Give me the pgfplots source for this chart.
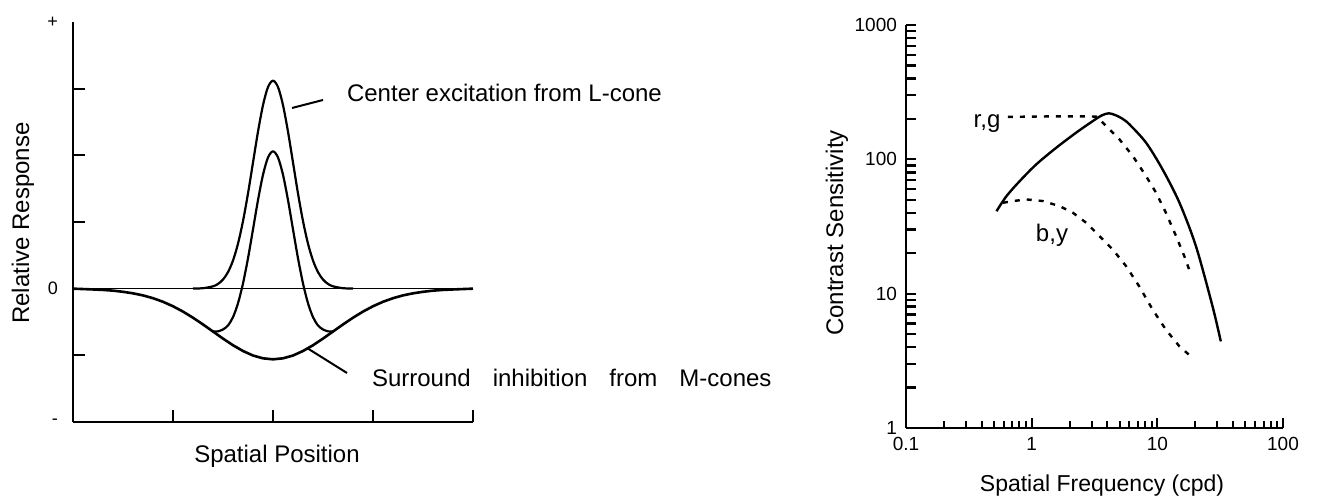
\documentclass[border=0pt]{standalone}
\usepackage{fontspec}
\setmainfont{Liberation Sans}
\usepackage{pgfplots}
\pgfplotsset{compat=1.18}
\begin{document}
\begin{tikzpicture}[x=1pt,y=1pt]
\useasboundingbox (0,0) rectangle (665,248);
% ---------------- left panel ----------------
\begin{axis}[
  at={(36.5pt,37pt)}, anchor=south west,
  scale only axis, width=200pt, height=200pt,
  xmin=0, xmax=4, ymin=-2, ymax=4,
  axis lines*=left,
  axis line style={line width=1.1pt, black},
  tick align=inside,
  major tick length=6pt,
  tick style={line width=1.1pt, black},
  xtick={1,2,3,4}, xticklabels={},
  ytick={-1,0,1,2,3}, yticklabels={},
  extra y ticks={-2,0,4},
  extra y tick labels={-,0,+},
  extra y tick style={major tick length=0pt, yticklabel style={font=\fontsize{9}{9}\selectfont, xshift=-4pt}},
  clip=false,
]
\addplot[black, line width=0.8pt] coordinates {(0,0) (4,0)};
% surround inhibition
\addplot[black, line width=1.3pt, line join=round] coordinates {
(0,0) (0.2,-0.012) (0.3,-0.019) (0.4,-0.030) (0.5,-0.047) (0.6,-0.070) (0.7,-0.101)
(0.8,-0.143) (0.9,-0.197) (1.0,-0.264) (1.1,-0.344) (1.2,-0.436) (1.3,-0.537)
(1.4,-0.643) (1.5,-0.749) (1.6,-0.849) (1.7,-0.935) (1.8,-1.003) (1.9,-1.045)
(2.0,-1.060) (2.1,-1.045) (2.2,-1.003) (2.3,-0.935) (2.4,-0.849) (2.5,-0.749)
(2.6,-0.643) (2.7,-0.537) (2.8,-0.436) (2.9,-0.344) (3.0,-0.264) (3.1,-0.197)
(3.2,-0.143) (3.3,-0.101) (3.4,-0.070) (3.5,-0.047) (3.6,-0.030) (3.7,-0.019)
(3.8,-0.012) (4.0,0)};
% center excitation
\addplot[black, line width=1.1pt, line join=round, smooth] coordinates {
(1.2,0.001) (1.3,0.007) (1.4,0.035) (1.45,0.071) (1.5,0.137) (1.55,0.248) (1.6,0.422)
(1.65,0.675) (1.7,1.013) (1.75,1.428) (1.8,1.892) (1.85,2.355) (1.9,2.753)
(1.95,3.024) (2.0,3.120) (2.05,3.024) (2.1,2.753) (2.15,2.355) (2.2,1.892)
(2.25,1.428) (2.3,1.013) (2.35,0.675) (2.4,0.422) (2.45,0.248) (2.5,0.137)
(2.55,0.071) (2.6,0.035) (2.7,0.007) (2.8,0.001)};
% net response
\addplot[black, line width=1.1pt, line join=round, smooth] coordinates {
(1.4,-0.643) (1.45,-0.640) (1.5,-0.612) (1.55,-0.552) (1.6,-0.427) (1.65,-0.219)
(1.7,0.078) (1.75,0.456) (1.8,0.889) (1.85,1.328) (1.9,1.708) (1.95,1.968)
(2.0,2.060) (2.05,1.968) (2.1,1.708) (2.15,1.328) (2.2,0.889) (2.25,0.456)
(2.3,0.078) (2.35,-0.219) (2.4,-0.427) (2.45,-0.552) (2.5,-0.612) (2.55,-0.640)
(2.6,-0.643)};
\end{axis}
% left panel labels
\node[rotate=90, font=\fontsize{12}{14}\selectfont] at (11.5,136.5) {Relative Response};
\node[anchor=base, font=\fontsize{12}{14}\selectfont] at (138.5,16.5) {Spatial Position};
\node[anchor=west, font=\fontsize{12}{14}\selectfont] at (170,201.5) {Center excitation from L-cone};
\node[anchor=west, font=\fontsize{12}{14}\selectfont] at (182.5,59) {Surround\hspace{11pt}inhibition\hspace{11pt}from\hspace{11pt}M-cones};
\draw[line width=1pt] (146,194) -- (161.5,198);
\draw[line width=1pt] (153.5,74) -- (173.5,61.5);
% ---------------- right panel ----------------
\begin{axis}[
  at={(453pt,34pt)}, anchor=south west,
  scale only axis, width=188.5pt, height=201.5pt,
  xmode=log, ymode=log,
  xmin=0.1, xmax=100, ymin=1, ymax=1000,
  axis lines*=left,
  axis line style={line width=1.1pt, black},
  tick align=inside,
  major tick length=5pt,
  tick style={line width=1pt, black},
  xtick={0.1,1,10,100}, xticklabels={0.1,1,10,100},
  ytick={1,10,100,1000}, yticklabels={1,10,100,1000},
  minor xtick={}, minor ytick={},
  extra x ticks={0.2,0.3,0.4,0.5,0.6,0.7,0.8,0.9,2,3,4,5,6,7,8,9,20,30,40,50,60,70,80,90},
  extra x tick labels={},
  extra x tick style={major tick length=3.5pt},
  extra y ticks={2,3,4,5,6,7,8,9,20,30,40,50,60,70,80,90,200,300,400,500,600,700,800,900},
  extra y tick labels={},
  extra y tick style={major tick length=5pt, tick style={line width=1.2pt}},
  ticklabel style={font=\fontsize{9.5}{10}\selectfont},
  xticklabel style={yshift=-1pt},
  yticklabel style={xshift=-1pt},
  clip=false,
]
% achromatic (solid)
\addplot[black, line width=1.2pt, smooth] coordinates {
(0.525,41.1) (0.630,53.2) (0.804,68.9) (1.089,91.8) (1.57,122) (2.26,158)
(3.0,190) (3.6,212) (4.1,220) (4.6,214) (5.3,200) (6.0,182) (8.13,133) (11.0,84.2) (15.0,47.5)
(20.3,22.5) (27.5,8.04) (32.0,4.41)};
% r,g (dashed)
\addplot[black, line width=1.2pt, dash pattern=on 2.5pt off 3.5pt] coordinates {
(0.646,207) (1.0,208) (1.6,209) (2.4,209) (3.26,208) (3.57,193) (4.16,167)
(4.99,141) (6.37,106) (8.13,75.0) (9.77,56.4) (11.7,40.0) (14.1,26.8)
(16.4,19.0) (18.5,13.9)};
% b,y (dashed)
\addplot[black, line width=1.2pt, dash pattern=on 2.5pt off 3.5pt] coordinates {
(0.591,47.5) (0.711,48.9) (0.908,50.3) (1.23,48.9) (1.67,44.8) (2.13,40.0)
(2.72,33.7) (3.47,26.8) (4.42,21.3) (5.65,16.0) (7.19,11.3) (9.18,7.6)
(11.7,5.39) (15.0,4.05) (18.5,3.41)};
\end{axis}
\node[rotate=90, font=\fontsize{12}{14}\selectfont] at (418.5,131.5) {Contrast Sensitivity};
\node[anchor=base, font=\fontsize{11.5}{14}\selectfont] at (551,2) {Spatial Frequency (cpd)};
\node[font=\fontsize{12}{14}\selectfont] at (493.5,186) {r,g};
\node[font=\fontsize{12}{14}\selectfont] at (526,130.5) {b,y};
\end{tikzpicture}
\end{document}
